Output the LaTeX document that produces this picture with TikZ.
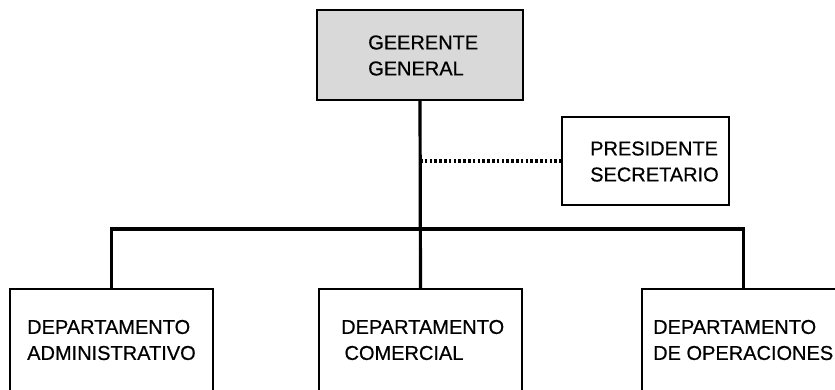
\documentclass[tikz,border=0pt]{standalone}
\usepackage{fontspec}
\setmainfont[FakeBold=0.6]{Liberation Sans}
\definecolor{boxgray}{HTML}{D9D9D9}
\begin{document}
\begin{tikzpicture}[x=1pt,y=-1pt,
  box/.style={draw=black, line width=2pt, inner sep=0pt, rectangle},
  txt/.style={inner sep=0pt, align=left, anchor=west, font=\fontsize{20}{26}\selectfont},
  conn/.style={line width=3.2pt},
  dots/.style={line width=3.2pt, dash pattern=on 2.6pt off 2.2pt}]
\useasboundingbox (0,0) rectangle (835,389);
\clip (0,0) rectangle (835,389);
% boxes
\node[box, fill=boxgray, minimum width=206pt, minimum height=90pt] (gg) at (420,55) {};
\node[box, fill=white, minimum width=167pt, minimum height=88pt] (pre) at (645.5,161) {};
\node[box, minimum width=203pt, minimum height=140pt] (adm) at (111.5,359) {};
\node[box, minimum width=203pt, minimum height=140pt] (com) at (420.5,359) {};
\node[box, minimum width=203pt, minimum height=140pt] (ope) at (743.5,359) {};
% texts
\node[txt] (ggt) at (368,55.5) {GEERENTE\\GENERAL};
\node[txt] (pret) at (590,161.5) {PRESIDENTE\\SECRETARIO};
\node[txt] (admt) at (27,340) {DEPARTAMENTO\\ADMINISTRATIVO};
\node[txt] (comt) at (341,340) {DEPARTAMENTO\\\,COMERCIAL};
\node[txt] (opet) at (653,340) {DEPARTAMENTO\\DE OPERACIONES};
% connectors
\coordinate (j) at (420,229);
\draw[conn] (gg.south) -- (com.north);
\draw[conn] (adm.north) -- (adm.north |- j) -- (ope.north |- j) -- (ope.north);
\draw[dots] (gg.south |- pre.west) -- (pre.west);
\end{tikzpicture}
\end{document}
